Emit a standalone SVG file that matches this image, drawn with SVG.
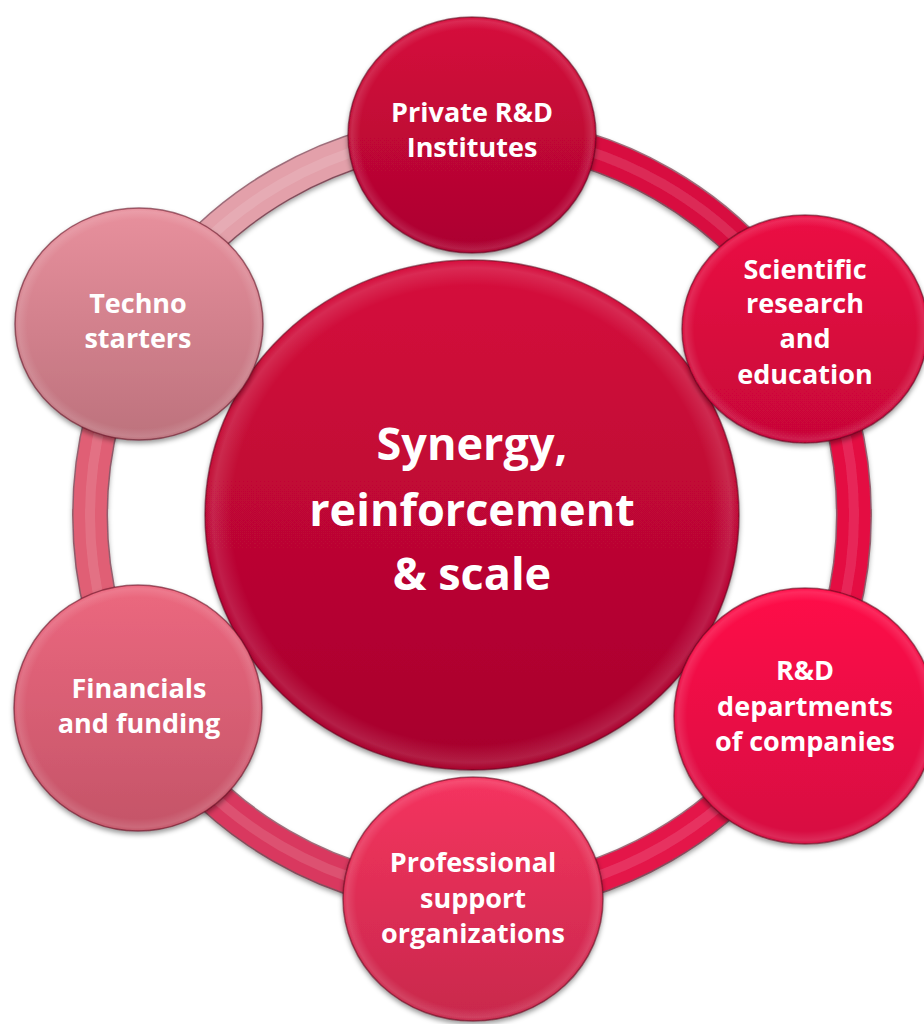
<svg xmlns="http://www.w3.org/2000/svg" width="924" height="1024" viewBox="0 0 924 1024">
  <defs>
    <filter id="shadow" x="-10%" y="-10%" width="120%" height="125%">
      <feDropShadow dx="0" dy="3" stdDeviation="2.5" flood-color="#000" flood-opacity="0.4"/>
    </filter>
    <linearGradient id="gCenter" x1="0" y1="0" x2="0" y2="1">
      <stop offset="0" stop-color="#d60a3c"/>
      <stop offset="1" stop-color="#a6032c"/>
    </linearGradient>
    <linearGradient id="gPrivate" x1="0" y1="0" x2="0" y2="1">
      <stop offset="0" stop-color="#d60a3c"/>
      <stop offset="1" stop-color="#ab042f"/>
    </linearGradient>
    <linearGradient id="gScience" x1="0" y1="0" x2="0" y2="1">
      <stop offset="0" stop-color="#ec0a44"/>
      <stop offset="1" stop-color="#c70638"/>
    </linearGradient>
    <linearGradient id="gDept" x1="0" y1="0" x2="0" y2="1">
      <stop offset="0" stop-color="#ff0c48"/>
      <stop offset="1" stop-color="#d60f42"/>
    </linearGradient>
    <linearGradient id="gSupport" x1="0" y1="0" x2="0" y2="1">
      <stop offset="0" stop-color="#f5345f"/>
      <stop offset="1" stop-color="#c8284c"/>
    </linearGradient>
    <linearGradient id="gFunding" x1="0" y1="0" x2="0" y2="1">
      <stop offset="0" stop-color="#ec687f"/>
      <stop offset="1" stop-color="#c45468"/>
    </linearGradient>
    <linearGradient id="gTechno" x1="0" y1="0" x2="0" y2="1">
      <stop offset="0" stop-color="#e8909d"/>
      <stop offset="1" stop-color="#bd727d"/>
    </linearGradient>
    <radialGradient id="gloss" cx="0.5" cy="0.5" r="0.5">
      <stop offset="0.9" stop-color="#fff" stop-opacity="0"/>
      <stop offset="0.97" stop-color="#fff" stop-opacity="0.12"/>
      <stop offset="1" stop-color="#fff" stop-opacity="0"/>
    </radialGradient>
  </defs>
  <style>
    .disc { stroke: #5a0a1c; stroke-opacity: 0.55; stroke-width: 1.5; filter: url(#shadow); }
    .rim { fill: url(#gloss); }
    .label { font-family: 'Open Sans', 'Liberation Sans', sans-serif; font-weight: bold; fill: #ffffff; text-anchor: middle; }
    .small { font-size: 27px; }
    .big { font-size: 45px; }
    .tube-edge { fill: none; stroke-width: 36; stroke: #5a0a1c; stroke-opacity: 0.55; }
    .tube { fill: none; stroke-width: 33; }
    .tube-hi { fill: none; stroke-width: 10; stroke: #ffffff; stroke-opacity: 0.12; }
  </style>

  <!-- ring joining the satellites (centre 472,515, radius 382) -->
  <g id="connectors" filter="url(#shadow)">
    <g id="arc-techno-private">
      <path class="tube-edge" d="M141.2 324 A382 382 0 0 1 472 133"/>
      <path class="tube" stroke="#e3a0aa" d="M141.2 324 A382 382 0 0 1 472 133"/>
      <path class="tube-hi" d="M141.2 324 A382 382 0 0 1 472 133"/>
    </g>
    <g id="arc-private-science">
      <path class="tube-edge" d="M472 133 A382 382 0 0 1 802.8 324"/>
      <path class="tube" stroke="#d80c40" d="M472 133 A382 382 0 0 1 802.8 324"/>
      <path class="tube-hi" d="M472 133 A382 382 0 0 1 802.8 324"/>
    </g>
    <g id="arc-science-dept">
      <path class="tube-edge" d="M802.8 324 A382 382 0 0 1 802.8 706"/>
      <path class="tube" stroke="#e40b42" d="M802.8 324 A382 382 0 0 1 802.8 706"/>
      <path class="tube-hi" d="M802.8 324 A382 382 0 0 1 802.8 706"/>
    </g>
    <g id="arc-dept-support">
      <path class="tube-edge" d="M802.8 706 A382 382 0 0 1 472 897"/>
      <path class="tube" stroke="#e4154a" d="M802.8 706 A382 382 0 0 1 472 897"/>
      <path class="tube-hi" d="M802.8 706 A382 382 0 0 1 472 897"/>
    </g>
    <g id="arc-support-funding">
      <path class="tube-edge" d="M472 897 A382 382 0 0 1 141.2 706"/>
      <path class="tube" stroke="#d9395e" d="M472 897 A382 382 0 0 1 141.2 706"/>
      <path class="tube-hi" d="M472 897 A382 382 0 0 1 141.2 706"/>
    </g>
    <g id="arc-funding-techno">
      <path class="tube-edge" d="M141.2 706 A382 382 0 0 1 141.2 324"/>
      <path class="tube" stroke="#e05e74" d="M141.2 706 A382 382 0 0 1 141.2 324"/>
      <path class="tube-hi" d="M141.2 706 A382 382 0 0 1 141.2 324"/>
    </g>
  </g>

  <g id="hub">
    <ellipse class="disc" cx="472" cy="515" rx="267" ry="255" fill="url(#gCenter)"/>
    <ellipse class="rim" cx="472" cy="515" rx="267" ry="255"/>
    <text class="label big" x="472" y="460">Synergy,</text>
    <text class="label big" x="472" y="526">reinforcement</text>
    <text class="label big" x="472" y="590">&amp; scale</text>
  </g>

  <g id="private-rd">
    <ellipse class="disc" cx="472" cy="135" rx="124" ry="118" fill="url(#gPrivate)"/>
    <ellipse class="rim" cx="472" cy="135" rx="124" ry="118"/>
    <text class="label small" x="472" y="122">Private R&amp;D</text>
    <text class="label small" x="472" y="157">Institutes</text>
  </g>

  <g id="scientific-research">
    <ellipse class="disc" cx="805" cy="329" rx="123" ry="114" fill="url(#gScience)"/>
    <ellipse class="rim" cx="805" cy="329" rx="123" ry="114"/>
    <text class="label small" x="805" y="279">Scientific</text>
    <text class="label small" x="805" y="313">research</text>
    <text class="label small" x="805" y="348">and</text>
    <text class="label small" x="805" y="384">education</text>
  </g>

  <g id="rd-departments">
    <ellipse class="disc" cx="805" cy="716" rx="131" ry="128" fill="url(#gDept)"/>
    <ellipse class="rim" cx="805" cy="716" rx="131" ry="128"/>
    <text class="label small" x="805" y="680">R&amp;D</text>
    <text class="label small" x="805" y="716">departments</text>
    <text class="label small" x="805" y="751">of companies</text>
  </g>

  <g id="professional-support">
    <ellipse class="disc" cx="473" cy="899" rx="130" ry="122" fill="url(#gSupport)"/>
    <ellipse class="rim" cx="473" cy="899" rx="130" ry="122"/>
    <text class="label small" x="473" y="872">Professional</text>
    <text class="label small" x="473" y="908">support</text>
    <text class="label small" x="473" y="943">organizations</text>
  </g>

  <g id="financials-funding">
    <ellipse class="disc" cx="138" cy="708" rx="124" ry="123" fill="url(#gFunding)"/>
    <ellipse class="rim" cx="138" cy="708" rx="124" ry="123"/>
    <text class="label small" x="139" y="698">Financials</text>
    <text class="label small" x="139" y="733">and funding</text>
  </g>

  <g id="techno-starters">
    <ellipse class="disc" cx="139" cy="324" rx="124" ry="116" fill="url(#gTechno)"/>
    <ellipse class="rim" cx="139" cy="324" rx="124" ry="116"/>
    <text class="label small" x="138" y="313">Techno</text>
    <text class="label small" x="138" y="348">starters</text>
  </g>
</svg>
